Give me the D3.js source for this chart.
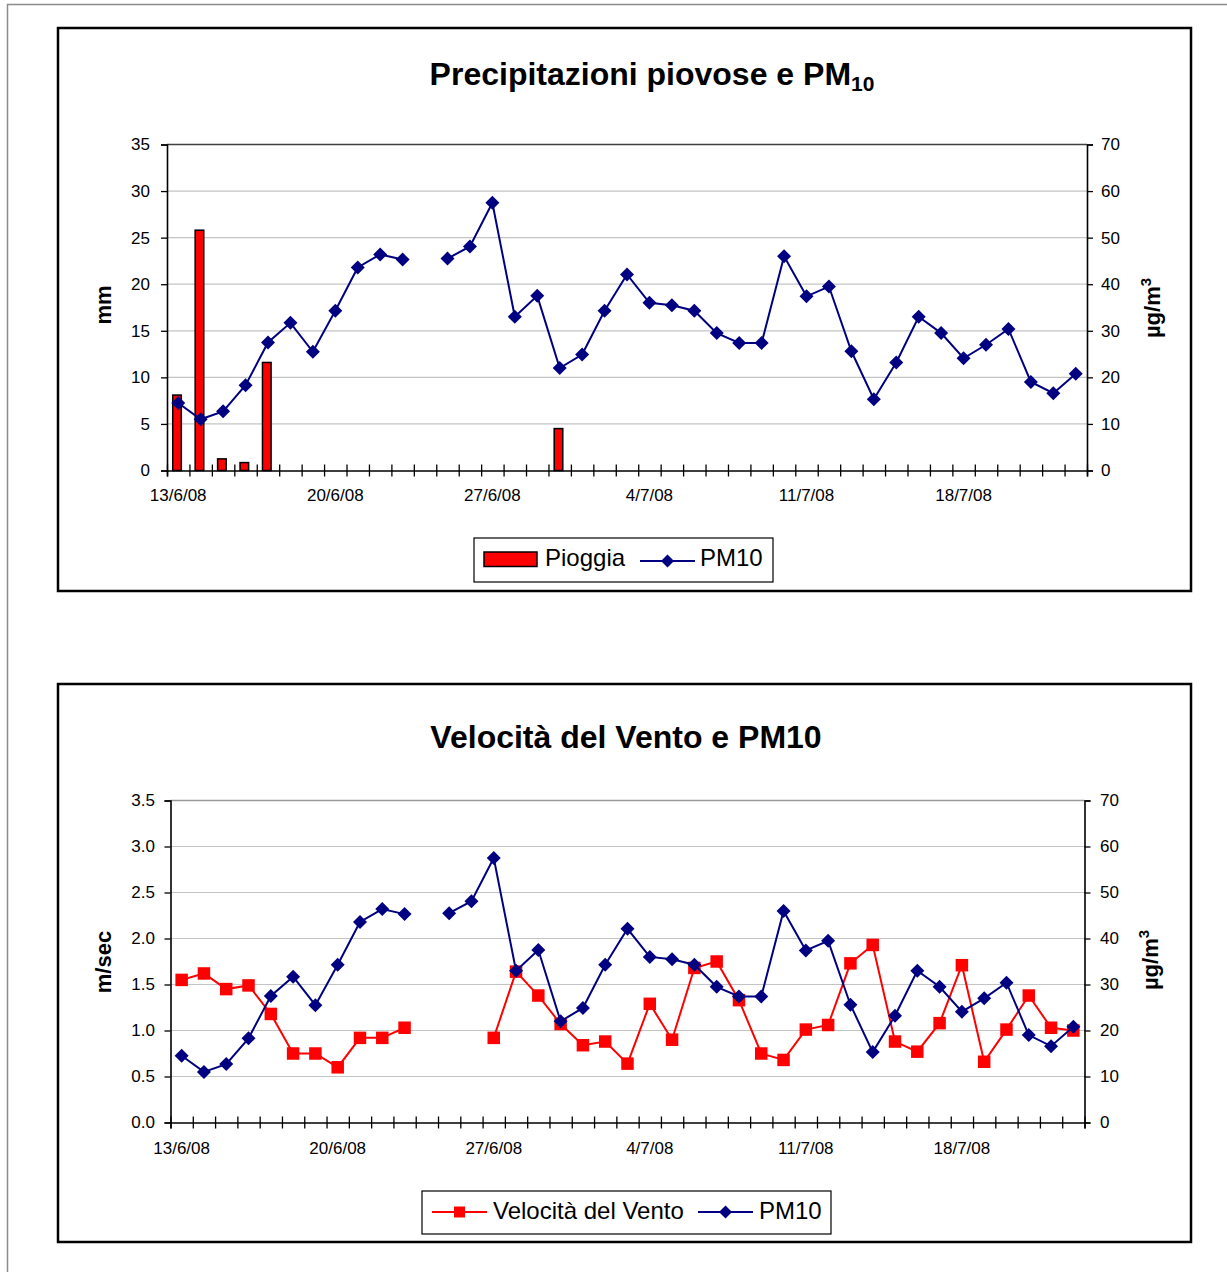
<!DOCTYPE html>
<html>
<head>
<meta charset="utf-8">
<script src="https://cdn.jsdelivr.net/npm/d3@7"></script>
<style>
  html, body { margin: 0; padding: 0; background: #ffffff; }
  svg { display: block; font-family: "Liberation Sans", Arial, sans-serif; }
</style>
</head>
<body>
<script>
// ---------------- DATA ----------------
const dates = [
  "13/6/08","14/6/08","15/6/08","16/6/08","17/6/08","18/6/08","19/6/08",
  "20/6/08","21/6/08","22/6/08","23/6/08","24/6/08","25/6/08","26/6/08",
  "27/6/08","28/6/08","29/6/08","30/6/08","1/7/08","2/7/08","3/7/08",
  "4/7/08","5/7/08","6/7/08","7/7/08","8/7/08","9/7/08","10/7/08",
  "11/7/08","12/7/08","13/7/08","14/7/08","15/7/08","16/7/08","17/7/08",
  "18/7/08","19/7/08","20/7/08","21/7/08","22/7/08","23/7/08"
];
const dateTickLabels = ["13/6/08","20/6/08","27/6/08","4/7/08","11/7/08","18/7/08"];

// Pioggia (mm)
const pioggia = [
  8.1, 25.8, 1.25, 0.85, 11.6, 0, 0,
  0, 0, 0, 0, 0, 0, 0,
  0, 0, 0, 4.5, 0, 0, 0,
  0, 0, 0, 0, 0, 0, 0,
  0, 0, 0, 0, 0, 0, 0,
  0, 0, 0, 0, 0, 0
];

// PM10 (µg/m3)
const pm10 = [
  14.5, 11.0, 12.7, 18.3, 27.5, 31.7, 25.5,
  34.3, 43.6, 46.4, 45.3, null, 45.5, 48.1,
  57.5, 33.0, 37.5, 22.0, 24.9, 34.3, 42.1,
  36.0, 35.5, 34.3, 29.5, 27.4, 27.4, 46.0,
  37.4, 39.5, 25.6, 15.3, 23.2, 33.0, 29.5,
  24.1, 27.0, 30.4, 19.0, 16.6, 20.8
];

// Velocità del Vento (m/sec)
const vento = [
  1.55, 1.62, 1.45, 1.49, 1.18, 0.75, 0.75,
  0.60, 0.92, 0.92, 1.03, null, null, null,
  0.92, 1.64, 1.38, 1.07, 0.84, 0.88, 0.64,
  1.29, 0.90, 1.68, 1.75, 1.33, 0.75, 0.68,
  1.01, 1.06, 1.73, 1.93, 0.88, 0.77, 1.08,
  1.71, 0.66, 1.01, 1.38, 1.03, 1.00
];

const rainTicks = [0, 5, 10, 15, 20, 25, 30, 35];
const windTicks = [0, 0.5, 1.0, 1.5, 2.0, 2.5, 3.0, 3.5];
const pmTicks = [0, 10, 20, 30, 40, 50, 60, 70];

// ---------------- DRAWING ----------------
const NAVY = "#000080";
const RED = "#ff0000";
const W = 1227, H = 1272;

const svg = d3.select("body").append("svg").attr("width", W).attr("height", H);

// page frame
svg.append("line").attr("x1", 7).attr("x2", W).attr("y1", 4.5).attr("y2", 4.5)
  .attr("stroke", "#8c8c8c").attr("stroke-width", 1.5);
svg.append("line").attr("x1", 7.5).attr("x2", 7.5).attr("y1", 4).attr("y2", H)
  .attr("stroke", "#8c8c8c").attr("stroke-width", 1.5);

function diamondPath(r) { return `M0,${-r}L${r},0L0,${r}L${-r},0Z`; }
function squarePath(s) { const h = s / 2; return `M${-h},${-h}H${h}V${h}H${-h}Z`; }

function drawChart(cfg) {
  const g = svg.append("g");
  const p = cfg.plot;

  // chart frame
  g.append("rect")
    .attr("x", cfg.frame[0]).attr("y", cfg.frame[1])
    .attr("width", cfg.frame[2] - cfg.frame[0]).attr("height", cfg.frame[3] - cfg.frame[1])
    .attr("fill", "#fff").attr("stroke", "#000").attr("stroke-width", 2.5);

  const x = d3.scaleBand().domain(dates).range([p.l, p.r]).paddingInner(0).paddingOuter(0);
  const yL = d3.scaleLinear().domain([0, cfg.leftTicks[cfg.leftTicks.length - 1]]).range([p.b, p.t]);
  const yR = d3.scaleLinear().domain([0, 70]).range([p.b, p.t]);

  // gridlines
  g.append("g").selectAll("line").data(cfg.leftTicks.filter(v => v > 0)).join("line")
    .attr("x1", p.l).attr("x2", p.r)
    .attr("y1", d => yL(d)).attr("y2", d => yL(d))
    .attr("stroke", (d, i, n) => i === n.length - 1 ? cfg.topGrid : "#c4c4c4")
    .attr("stroke-width", (d, i, n) => i === n.length - 1 ? 1.5 : 1.2);

  // left axis
  const axL = g.append("g").attr("transform", `translate(${p.l},0)`)
    .call(d3.axisLeft(yL).tickValues(cfg.leftTicks).tickSize(6).tickPadding(cfg.padL).tickFormat(cfg.leftFmt));
  // right axis
  const axR = g.append("g").attr("transform", `translate(${p.r},0)`)
    .call(d3.axisRight(yR).tickValues(pmTicks).tickSize(6).tickPadding(cfg.padR).tickFormat(d3.format("d")));
  [axL, axR].forEach(a => {
    a.select(".domain").attr("stroke", "#000").attr("stroke-width", 1.6);
    a.selectAll(".tick line").attr("stroke", "#000").attr("stroke-width", 1.3);
    a.selectAll("text").attr("font-size", 17).attr("fill", "#000")
      .attr("font-family", "'Liberation Sans', Arial, sans-serif");
  });

  // x axis boundary ticks (category separators crossing the axis)
  const xb = d3.scaleLinear().domain([0, dates.length]).range([p.l, p.r]);
  const axB = g.append("g").attr("transform", `translate(0,${p.b})`)
    .call(d3.axisBottom(xb).tickValues(d3.range(0, dates.length + 1)).tickSize(6).tickFormat(""));
  axB.select(".domain").attr("stroke", "#000").attr("stroke-width", 1.6);
  axB.selectAll(".tick line").attr("y1", -6).attr("y2", 6).attr("stroke", "#000").attr("stroke-width", 1.3);

  // x axis labels
  const axLab = g.append("g").attr("transform", `translate(0,${p.b})`)
    .call(d3.axisBottom(x).tickValues(dateTickLabels).tickSize(0).tickPadding(cfg.padX));
  axLab.select(".domain").remove();
  axLab.selectAll("text").attr("font-size", 17).attr("fill", "#000")
    .attr("font-family", "'Liberation Sans', Arial, sans-serif");

  const cx = d => x(d) + x.bandwidth() / 2;

  // bars
  if (cfg.bars) {
    const bw = 8.6;
    const rows = dates.map((d, i) => ({ d, v: cfg.bars[i] })).filter(r => r.v > 0);
    g.append("g").selectAll("rect").data(rows).join("rect")
      .attr("x", r => cx(r.d) - bw / 2 - 1.2).attr("width", bw)
      .attr("y", r => yL(r.v)).attr("height", r => yL(0) - yL(r.v))
      .attr("fill", RED).attr("stroke", "#000").attr("stroke-width", 1.5);
  }

  // wind line
  if (cfg.wind) {
    const rows = dates.map((d, i) => ({ d, v: cfg.wind[i] }));
    g.append("path").datum(rows)
      .attr("d", d3.line().defined(r => r.v != null).x(r => cx(r.d)).y(r => yL(r.v)))
      .attr("fill", "none").attr("stroke", RED).attr("stroke-width", 2);
    g.append("g").selectAll("path").data(rows.filter(r => r.v != null)).join("path")
      .attr("d", squarePath(12.5))
      .attr("transform", r => `translate(${cx(r.d)},${yL(r.v)})`)
      .attr("fill", RED);
  }

  // PM10 line
  {
    const rows = dates.map((d, i) => ({ d, v: pm10[i] }));
    g.append("path").datum(rows)
      .attr("d", d3.line().defined(r => r.v != null).x(r => cx(r.d)).y(r => yR(r.v)))
      .attr("fill", "none").attr("stroke", NAVY).attr("stroke-width", 2);
    g.append("g").selectAll("path").data(rows.filter(r => r.v != null)).join("path")
      .attr("d", diamondPath(7))
      .attr("transform", r => `translate(${cx(r.d)},${yR(r.v)})`)
      .attr("fill", NAVY);
  }

  // title
  const t = g.append("text").attr("x", cfg.titleX).attr("y", cfg.titleY)
    .attr("text-anchor", "middle").attr("font-size", 32).attr("font-weight", "bold").attr("fill", "#000");
  t.append("tspan").text(cfg.title);
  if (cfg.titleSub) {
    t.append("tspan").text(cfg.titleSub).attr("font-size", 21).attr("dy", 6);
  }

  // axis titles
  g.append("text").attr("transform", `translate(${cfg.leftTitle[1]},${cfg.leftTitle[2]}) rotate(-90)`)
    .attr("text-anchor", "middle").attr("font-size", 22).attr("font-weight", "bold").text(cfg.leftTitle[0]);
  const rt = g.append("text").attr("transform", `translate(${cfg.rightTitle[0]},${cfg.rightTitle[1]}) rotate(-90)`)
    .attr("text-anchor", "middle").attr("font-size", 22).attr("font-weight", "bold");
  rt.append("tspan").text("µg/m");
  rt.append("tspan").text("3").attr("font-size", 15).attr("dy", -9);

  // legend
  const L = cfg.legend;
  g.append("rect").attr("x", L.box[0]).attr("y", L.box[1])
    .attr("width", L.box[2] - L.box[0]).attr("height", L.box[3] - L.box[1])
    .attr("fill", "#fff").attr("stroke", "#000").attr("stroke-width", 1.2);
  L.items.forEach(it => {
    if (it.type === "bar") {
      g.append("rect").attr("x", it.x0).attr("y", it.y - 7.5).attr("width", it.x1 - it.x0).attr("height", 14.5)
        .attr("fill", RED).attr("stroke", "#000").attr("stroke-width", 1.5);
    } else {
      g.append("line").attr("x1", it.x0).attr("x2", it.x1).attr("y1", it.y).attr("y2", it.y)
        .attr("stroke", it.color).attr("stroke-width", 2);
      g.append("path").attr("d", it.type === "square" ? squarePath(11) : diamondPath(6.5))
        .attr("transform", `translate(${(it.x0 + it.x1) / 2},${it.y})`).attr("fill", it.color);
    }
    g.append("text").attr("x", it.tx).attr("y", L.baseline).attr("font-size", 24).attr("fill", "#000").text(it.label);
  });
}

drawChart({
  frame: [58, 28, 1191, 591],
  plot: { l: 167, r: 1087, t: 144.5, b: 470.5 },
  leftTicks: rainTicks, leftFmt: d3.format("d"),
  padL: 11, padR: 8, padX: 18,
  topGrid: "#404040",
  bars: pioggia,
  title: "Precipitazioni piovose e PM", titleSub: "10", titleX: 652, titleY: 85,
  leftTitle: ["mm", 111, 305],
  rightTitle: [1160, 308],
  legend: {
    box: [474, 538, 773, 582], baseline: 566,
    items: [
      { type: "bar", x0: 484, x1: 537, y: 559.5, tx: 545, label: "Pioggia" },
      { type: "diamond", x0: 640, x1: 695, y: 561, color: NAVY, tx: 700, label: "PM10" }
    ]
  }
});

drawChart({
  frame: [58, 684, 1191, 1242],
  plot: { l: 170.5, r: 1084.5, t: 800.5, b: 1122.5 },
  leftTicks: windTicks, leftFmt: d3.format(".1f"),
  padL: 9.5, padR: 9.5, padX: 19,
  topGrid: "#9a9a9a",
  wind: vento,
  title: "Velocità del Vento e PM10", titleX: 626, titleY: 748,
  leftTitle: ["m/sec", 111, 962],
  rightTitle: [1158, 960],
  legend: {
    box: [422, 1191, 831, 1234], baseline: 1219,
    items: [
      { type: "square", x0: 432, x1: 487, y: 1212, color: RED, tx: 493, label: "Velocità del Vento" },
      { type: "diamond", x0: 698, x1: 753, y: 1212, color: NAVY, tx: 759, label: "PM10" }
    ]
  }
});
</script>
</body>
</html>
